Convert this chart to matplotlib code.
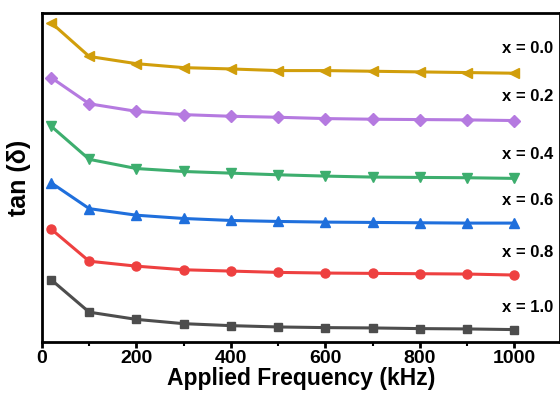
import matplotlib
matplotlib.use("Agg")
import matplotlib.pyplot as plt
from matplotlib.ticker import MultipleLocator

plt.rcParams['font.family'] = ['Liberation Sans', 'DejaVu Sans']
plt.rcParams['font.weight'] = 'bold'

freq = [20, 100, 200, 300, 400, 500, 600, 700, 800, 900, 1000]
labels = ["x = 0.0", "x = 0.2", "x = 0.4", "x = 0.6", "x = 0.8", "x = 1.0"]
# tan(delta) in arbitrary units
tan_x00 = [0.970, 0.868, 0.846, 0.834, 0.830, 0.825, 0.825, 0.823, 0.821, 0.819, 0.817]
tan_x02 = [0.803, 0.724, 0.701, 0.691, 0.686, 0.683, 0.679, 0.677, 0.676, 0.675, 0.673]
tan_x04 = [0.655, 0.555, 0.527, 0.518, 0.513, 0.508, 0.504, 0.501, 0.500, 0.499, 0.497]
tan_x06 = [0.483, 0.405, 0.385, 0.375, 0.369, 0.366, 0.364, 0.363, 0.362, 0.361, 0.361]
tan_x08 = [0.342, 0.245, 0.230, 0.219, 0.215, 0.211, 0.209, 0.208, 0.207, 0.206, 0.203]
tan_x10 = [0.188, 0.090, 0.068, 0.055, 0.049, 0.045, 0.043, 0.042, 0.040, 0.039, 0.037]
label_y = [0.892, 0.747, 0.570, 0.430, 0.273, 0.103]

series = [tan_x00, tan_x02, tan_x04, tan_x06, tan_x08, tan_x10]
colors = ['#D19E0B', '#B57AE0', '#3DAE6E', '#1F6FDC', '#EE4040', '#4D4D4D']
markers = ['<', 'D', 'v', '^', 'o', 's']
msizes = [7.5, 6, 7.5, 7.5, 6.5, 6]

fig = plt.figure(figsize=(5.6, 3.96), dpi=100)
ax = fig.add_axes([0.075, 0.137, 0.925, 0.830])

for vals, c, m, ms, lab, ly in zip(series, colors, markers, msizes, labels, label_y):
    ax.plot(freq, vals, color=c, marker=m, markersize=ms, linewidth=2.2)
    ax.text(1083, ly, lab, ha='right', va='center', fontsize=12, fontweight='bold')

ax.set_xlim(0, 1097)
ax.set_ylim(0, 1)
ax.set_yticks([])
ax.xaxis.set_major_locator(MultipleLocator(200))
ax.xaxis.set_minor_locator(MultipleLocator(100))
ax.tick_params(axis='x', which='major', direction='out', length=4, width=2, labelsize=14, pad=2)
ax.tick_params(axis='x', which='minor', direction='out', length=3, width=1.5)
for lab in ax.get_xticklabels():
    lab.set_fontweight('bold')
for s in ax.spines.values():
    s.set_linewidth(2)

ax.set_xlabel('Applied Frequency (kHz)', fontsize=16.5, fontweight='bold', labelpad=0)
ax.set_ylabel('tan (δ)', fontsize=18, fontweight='bold', labelpad=8)

fig.savefig('out.png', dpi=100)
